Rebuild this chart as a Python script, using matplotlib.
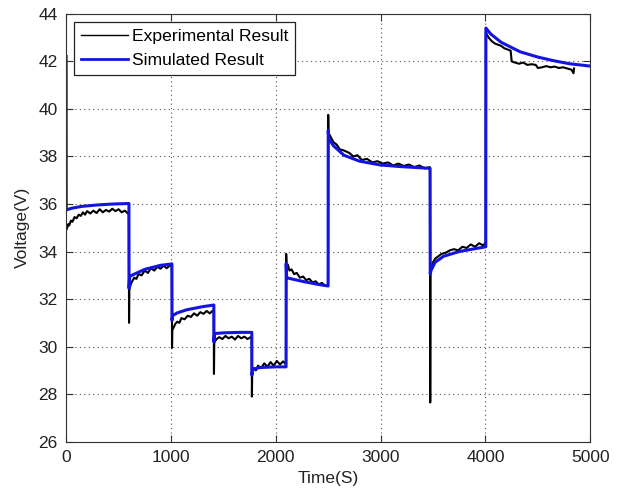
import numpy as np
import matplotlib.pyplot as plt

plt.rcParams["font.family"] = ["Liberation Sans", "DejaVu Sans"]

# --- datos (tiempo en s, voltaje en V) ---
# resultado experimental (ruidoso), por tramos de corriente
t_exp = [0, 10, 20, 30, 45, 60, 80, 100, 120, 140, 160, 180, 200, 230, 260, 290, 320, 350, 380, 410,
         440, 470, 500, 530, 560, 590, 598,
         600, 603, 615, 630, 650, 670, 690, 720, 750, 780, 810, 840, 870, 900, 930, 960, 990, 1008,
         1010, 1013, 1025, 1040, 1060, 1080, 1100, 1130, 1160, 1190, 1220, 1250, 1280, 1310, 1340,
         1370, 1400, 1408,
         1410, 1413, 1430, 1460, 1490, 1520, 1550, 1580, 1610, 1640, 1670, 1700, 1730, 1760, 1770,
         1772, 1775, 1790, 1810, 1830, 1860, 1890, 1920, 1950, 1980, 2010, 2040, 2070, 2097,
         2099, 2103, 2115, 2130, 2150, 2175, 2200, 2230, 2260, 2290, 2320, 2350, 2380, 2410, 2440,
         2470, 2498,
         2500, 2502, 2520, 2550, 2580, 2610, 2650, 2700, 2740, 2780, 2820, 2870, 2920, 2970, 3020,
         3070, 3120, 3170, 3220, 3270, 3320, 3370, 3420, 3470,
         3473, 3476, 3485, 3500, 3520, 3550, 3580, 3620, 3660, 3700, 3740, 3780, 3820, 3860, 3900,
         3940, 3980, 4002,
         4004, 4030, 4060, 4090, 4120, 4150, 4180, 4210, 4240, 4250, 4280, 4320, 4360, 4400, 4440,
         4480, 4500, 4540, 4580, 4620, 4660, 4700, 4740, 4780, 4820, 4840, 4845]
v_exp = [34.9, 35.0, 35.15, 35.1, 35.3, 35.25, 35.45, 35.4, 35.55, 35.5, 35.65, 35.55, 35.7, 35.6,
         35.72, 35.62, 35.78, 35.65, 35.75, 35.68, 35.8, 35.7, 35.78, 35.65, 35.72, 35.6, 35.65,
         31.0, 32.4, 32.6, 32.75, 32.9, 32.85, 33.05, 33.0, 33.2, 33.1, 33.3, 33.2, 33.35, 33.28,
         33.4, 33.3, 33.42, 33.38,
         29.95, 30.7, 30.8, 30.95, 31.05, 31.0, 31.2, 31.15, 31.3, 31.25, 31.4, 31.3, 31.45, 31.38,
         31.5, 31.4, 31.52, 31.45,
         28.85, 30.15, 30.3, 30.4, 30.32, 30.45, 30.35, 30.42, 30.3, 30.45, 30.35, 30.42, 30.32,
         30.4, 30.35,
         27.9, 28.9, 29.1, 29.0, 29.2, 29.1, 29.3, 29.15, 29.35, 29.2, 29.4, 29.25, 29.38, 29.25,
         33.9, 33.3, 33.45, 33.2, 33.25, 33.05, 33.1, 32.9, 32.95, 32.8, 32.85, 32.7, 32.75, 32.62,
         32.68, 32.55, 32.6,
         39.75, 39.0, 38.85, 38.6, 38.5, 38.3, 38.25, 38.15, 38.0, 38.05, 37.85, 37.9, 37.75, 37.8,
         37.7, 37.75, 37.62, 37.7, 37.6, 37.66, 37.55, 37.62, 37.5, 37.55,
         27.65, 33.2, 33.4, 33.55, 33.7, 33.8, 33.9, 33.95, 34.05, 34.1, 34.05, 34.2, 34.15, 34.3,
         34.2, 34.35, 34.25, 34.4,
         43.2, 43.0, 42.85, 42.75, 42.7, 42.65, 42.55, 42.5, 42.45, 42.0, 41.95, 41.9, 41.95, 41.85,
         41.88, 41.85, 41.72, 41.75, 41.8, 41.75, 41.78, 41.72, 41.75, 41.7, 41.65, 41.5, 41.7]

# resultado simulado
t_sim = [0, 1, 50, 150, 300, 450, 599,
         600, 606, 650, 750, 900, 1009,
         1010, 1015, 1060, 1150, 1300, 1409,
         1410, 1415, 1500, 1650, 1771,
         1772, 1780, 1850, 2000, 2098,
         2099, 2103, 2150, 2250, 2400, 2499,
         2500, 2505, 2550, 2650, 2800, 3000, 3200, 3472,
         3473, 3480, 3520, 3600, 3750, 3900, 4003,
         4004, 4050, 4150, 4332, 4500, 4647, 4800, 5000]
v_sim = [42.2, 35.75, 35.82, 35.9, 35.96, 36.0, 36.02,
         32.45, 32.95, 33.05, 33.25, 33.42, 33.48,
         31.1, 31.3, 31.42, 31.55, 31.68, 31.75,
         30.2, 30.55, 30.58, 30.6, 30.6,
         28.8, 29.05, 29.12, 29.15, 29.15,
         33.5, 32.9, 32.85, 32.75, 32.62, 32.55,
         39.1, 38.75, 38.45, 38.05, 37.8, 37.64, 37.57, 37.5,
         33.05, 33.2, 33.55, 33.8, 34.0, 34.12, 34.2,
         43.4, 43.15, 42.8, 42.4, 42.18, 42.03, 41.9, 41.8]

fig = plt.figure(figsize=(6.24, 4.93), dpi=100)
ax = fig.add_axes([0.106, 0.104, 0.840, 0.868])

ax.plot(t_exp, v_exp, color="black", lw=1.5, label="Experimental Result")
ax.plot(t_sim, v_sim, color="#1414e0", lw=2.2, label="Simulated Result")

ax.set_xlim(0, 5000)
ax.set_ylim(26, 44)
ax.set_xticks(np.arange(0, 5001, 1000))
ax.set_yticks(np.arange(26, 45, 2))
ax.grid(True, linestyle=(0, (1, 3)), color="#555555", lw=0.8)
ax.tick_params(direction="in", top=True, right=True, length=5, labelsize=12.5, pad=6,
               colors="#333333", labelcolor="#222222")
for s in ax.spines.values():
    s.set_color("#333333")

ax.set_xlabel("Time(S)", fontsize=12.5, color="#222222", labelpad=4)
ax.set_ylabel("Voltage(V)", fontsize=12.5, color="#222222", labelpad=6)

leg = ax.legend(loc="upper left", fontsize=12.6, handlelength=2.7, handletextpad=0.2,
                labelspacing=0.5, borderaxespad=0.45, fancybox=False, framealpha=1,
                borderpad=0.4)
leg.get_frame().set_edgecolor("#222222")
leg.get_frame().set_linewidth(0.9)
leg.legend_handles[0].set_linewidth(1.0)
leg.legend_handles[1].set_linewidth(2.0)

fig.savefig("out.png", dpi=100)
